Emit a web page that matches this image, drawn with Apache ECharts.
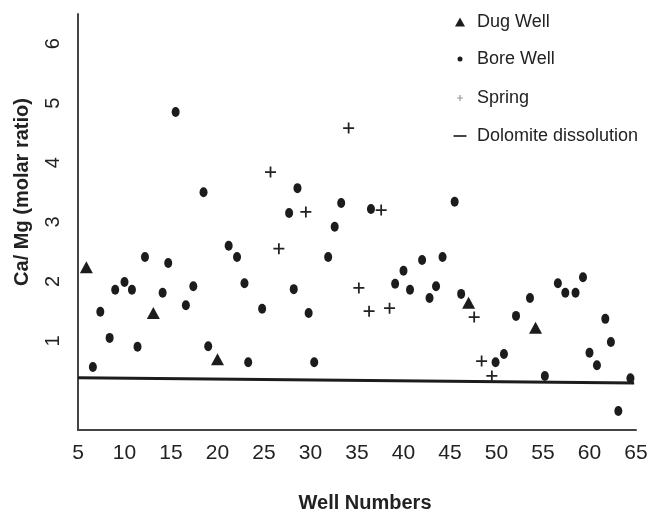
<!DOCTYPE html>
<html>
<head>
<meta charset="utf-8">
<script src="https://cdn.jsdelivr.net/npm/echarts@6/dist/echarts.min.js"></script>
<style>
html,body{margin:0;padding:0;background:#fff;}
#chart{width:650px;height:512px;}
</style>
</head>
<body>
<div id="chart"></div>
<script>
// Well numbers on x, Ca/Mg molar ratio on y
var dugWell = [[5.9,2.24],[13.1,1.47],[20.0,0.69],[47.0,1.64],[54.2,1.22]];

var boreWell = [
  [6.6,0.56],[7.4,1.49],[8.4,1.05],[9.0,1.86],[10.0,1.99],[10.8,1.86],[11.4,0.90],
  [12.2,2.41],[14.1,1.81],[14.7,2.31],[15.5,4.85],[16.6,1.60],[17.4,1.92],[18.5,3.50],
  [19.0,0.91],[21.2,2.60],[22.1,2.41],[22.9,1.97],[23.3,0.64],[24.8,1.54],[27.7,3.15],
  [28.6,3.57],[28.2,1.87],[29.8,1.47],[30.4,0.64],[31.9,2.41],[32.6,2.92],[33.3,3.32],
  [36.5,3.22],[39.1,1.96],[40.0,2.18],[40.7,1.86],[42.0,2.36],[42.8,1.72],[43.5,1.92],
  [44.2,2.41],[45.5,3.34],[46.2,1.79],[49.9,0.64],[50.8,0.78],[52.1,1.42],[53.6,1.72],
  [55.2,0.41],[56.6,1.97],[57.4,1.81],[58.5,1.81],[59.3,2.07],[60.0,0.80],[60.8,0.59],
  [61.7,1.37],[62.3,0.98],[63.1,-0.18],[64.4,0.37]
];

var spring = [
  [25.7,3.84],[26.6,2.55],[29.5,3.17],[34.1,4.58],[37.6,3.20],[35.2,1.89],
  [36.3,1.50],[38.5,1.55],[47.6,1.40],[48.4,0.66],[49.5,0.41]
];

var dolomiteLine = [[5,0.38],[64.8,0.29]];

var seriesNames = ['Dug Well','Bore Well','Spring','Dolomite dissolution'];
var xTickLabels = [5,10,15,20,25,30,35,40,45,50,55,60,65];
var yTickLabels = [1,2,3,4,5,6];

var FONT = "'Liberation Sans', Arial, Helvetica, sans-serif";
var INK = '#1c1c1c';
var plusPath = 'path://M4.2,0 H5.8 V4.2 H10 V5.8 H5.8 V10 H4.2 V5.8 H0 V4.2 H4.2 Z';

// iconW: drawn width of the icon inside the 24px icon box (the legend is laid out by its drawn bounds)
function legendBlock(name, icon, top, h, iconW, color) {
  return {
    data: [{name: name, icon: icon, itemStyle: {color: color}}],
    orient: 'vertical', left: 448 + (24 - iconW) / 2, top: top, padding: 0,
    itemWidth: 24, itemHeight: h, selectedMode: false,
    symbolKeepAspect: true,
    textStyle: {fontSize: 18, color: '#222', fontFamily: FONT}
  };
}

var chart = echarts.init(document.getElementById('chart'), null, {renderer: 'canvas'});
chart.setOption({
  animation: false,
  backgroundColor: '#fff',
  grid: {left: 78, right: 14, top: 14, bottom: 82, containLabel: false, outerBoundsMode: 'none'},
  legend: [
    legendBlock(seriesNames[0], 'path://M5,0 L10,9 L0,9 Z', 13, 9, 10, INK),
    legendBlock(seriesNames[1], 'circle', 50, 5, 5, INK),
    legendBlock(seriesNames[2], 'path://M2,0 H3 V2 H5 V3 H3 V5 H2 V3 H0 V2 H2 Z', 89, 6, 6, '#9a9a9a'),
    legendBlock(seriesNames[3], 'path://M0,0 H13 V2 H0 Z', 127, 2, 13, '#444')
  ],
  xAxis: {
    type: 'value', min: 5, max: 65, interval: 5,
    name: 'Well Numbers', nameLocation: 'middle', nameGap: 63,
    nameTextStyle: {fontSize: 20, fontWeight: 'bold', color: '#222', fontFamily: FONT, padding: [0,0,0,16]},
    axisLine: {show: true, onZero: false, lineStyle: {color: '#444', width: 2}},
    axisTick: {show: false},
    splitLine: {show: false},
    axisLabel: {
      fontSize: 21, color: '#222', fontFamily: FONT, margin: 13,
      formatter: function (v) { return xTickLabels.indexOf(v) >= 0 ? String(v) : ''; }
    }
  },
  yAxis: {
    type: 'value', min: -0.5, max: 6.5, interval: 0.5,
    name: 'Ca/ Mg (molar ratio)', nameLocation: 'middle', nameGap: 46,
    nameTextStyle: {fontSize: 20, fontWeight: 'bold', color: '#222', fontFamily: FONT, padding: [0,0,0,60]},
    axisLine: {show: true, onZero: false, lineStyle: {color: '#444', width: 2}},
    axisTick: {show: false},
    splitLine: {show: false},
    axisLabel: {
      rotate: 90, fontSize: 20, color: '#222', fontFamily: FONT, margin: 15,
      formatter: function (v) { return yTickLabels.indexOf(v) >= 0 ? String(v) : ''; }
    }
  },
  series: [
    {
      name: seriesNames[0], type: 'scatter', data: dugWell,
      symbol: 'triangle', symbolSize: [13, 12],
      itemStyle: {color: INK, opacity: 1}, z: 4
    },
    {
      name: seriesNames[1], type: 'scatter', data: boreWell,
      symbol: 'circle', symbolSize: [8, 10],
      itemStyle: {color: INK, opacity: 1}, z: 3
    },
    {
      name: seriesNames[2], type: 'scatter', data: spring,
      symbol: plusPath, symbolSize: 11,
      itemStyle: {color: '#222', opacity: 1}, z: 5
    },
    {
      name: seriesNames[3], type: 'line', data: dolomiteLine,
      symbol: 'none', lineStyle: {color: '#1c1c1c', width: 3},
      itemStyle: {color: '#444'}, z: 2
    }
  ]
});
</script>
</body>
</html>
